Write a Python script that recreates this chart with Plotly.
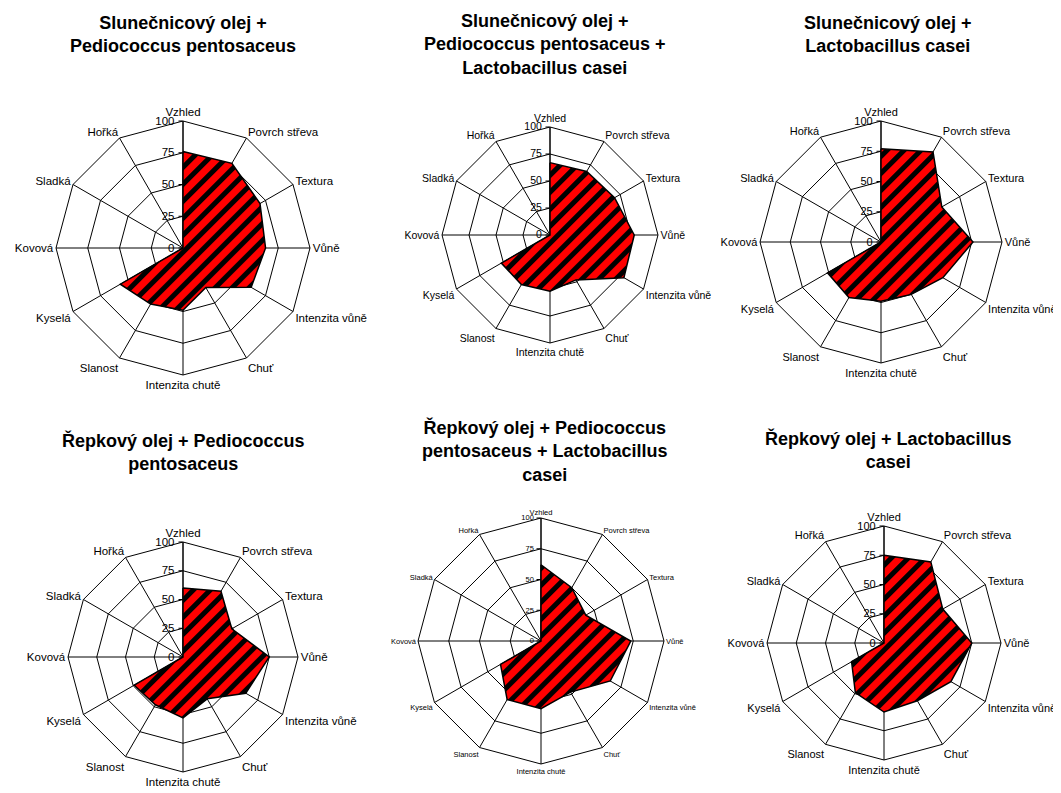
import plotly.graph_objects as go

categories = ["Vzhled", "Povrch střeva", "Textura", "Vůně", "Intenzita vůně", "Chuť",
              "Intenzita chutě", "Slanost", "Kyselá", "Kovová", "Sladká", "Hořká"]

titles = [
    "Slunečnicový olej +<br>Pediococcus pentosaceus",
    "Slunečnicový olej +<br>Pediococcus pentosaceus +<br>Lactobacillus casei",
    "Slunečnicový olej +<br>Lactobacillus casei",
    "Řepkový olej + Pediococcus<br>pentosaceus",
    "Řepkový olej + Pediococcus<br>pentosaceus + Lactobacillus<br>casei",
    "Řepkový olej + Lactobacillus<br>casei",
]

s_pp = [76, 77, 70, 65, 62, 36, 49, 51, 57, 0, 0, 0]
s_pp_lc = [67, 68, 69, 78, 79, 48, 52, 53, 52, 0, 0, 0]
s_lc = [77, 86, 58, 76, 59, 50, 49, 53, 51, 0, 0, 0]
r_pp = [60, 66, 49, 75, 63, 42, 53, 48, 49, 0, 0, 0]
r_pp_lc = [62, 50, 42, 73, 65, 48, 55, 55, 38, 0, 0, 0]
r_lc = [75, 80, 58, 75, 66, 57, 59, 49, 32, 0, 0, 0]

series = [s_pp, s_pp_lc, s_lc, r_pp, r_pp_lc, r_lc]
radial_ticks = [0, 25, 50, 75, 100]

W, H = 1061, 793
# (center x, center y, radius) in pixels, and label font size
layout_px = [
    (175, 240, 127, 11.5),
    (542, 227, 108, 10.5),
    (873, 234, 121, 11),
    (175, 649, 115, 11.5),
    (533, 633, 123, 7.5),
    (876, 635, 117, 11),
]
title_pos = [(175, 3), (537, 1), (880, 3), (175, 420), (537, 407), (880, 418)]

fig = go.Figure()
layout = dict(width=W, height=H, margin=dict(l=0, r=0, t=0, b=0),
              paper_bgcolor="white", plot_bgcolor="white", showlegend=False,
              font=dict(family="Liberation Sans, Arial, sans-serif", color="black"))
annotations = []
for i, (vals, (cx, cy, R, fs)) in enumerate(zip(series, layout_px)):
    pname = "polar" if i == 0 else f"polar{i+1}"
    fig.add_trace(go.Scatterpolar(
        r=vals + [vals[0]], theta=categories + [categories[0]],
        subplot=pname, mode="lines", fill="toself",
        fillcolor="#ff0000",
        line=dict(color="black", width=1.5),
        hoverinfo="skip",
    ))
    layout[pname] = dict(
        domain=dict(x=[(cx - R) / W, (cx + R) / W], y=[1 - (cy + R) / H, 1 - (cy - R) / H]),
        gridshape="linear", bgcolor="white",
        radialaxis=dict(range=[0, 100], tickvals=radial_ticks, angle=90, tickangle=90,
                        showline=True, linecolor="black", linewidth=1,
                        gridcolor="black", gridwidth=1, ticks="outside", ticklen=4,
                        tickcolor="black", tickfont=dict(size=fs, color="black"),
                        side="counterclockwise", layer="below traces"),
        angularaxis=dict(rotation=90, direction="clockwise", showline=True,
                         linecolor="black", linewidth=1, gridcolor="black", gridwidth=1,
                         tickfont=dict(size=fs, color="black"), ticks="",
                         layer="below traces"),
    )
    tx, ty = title_pos[i]
    annotations.append(dict(text=titles[i], x=tx / W, y=1 - ty / H, xref="paper", yref="paper",
                            xanchor="center", yanchor="top", showarrow=False,
                            font=dict(size=18, family="Liberation Sans, Arial, sans-serif",
                                      color="black", weight="bold"), align="center"))
layout["annotations"] = annotations
fig.update_layout(**layout)

# Striped (red / black diagonal) fill applied to the polygon fills
post_js = """
var gd = document.getElementById('{plot_id}');
function applyStripes(){
  var ns = 'http://www.w3.org/2000/svg';
  var svg = gd.querySelector('svg.main-svg');
  if(!svg) return;
  if(!document.getElementById('redstripes')){
    var defs = svg.querySelector('defs');
    if(!defs){ defs = document.createElementNS(ns,'defs'); svg.insertBefore(defs, svg.firstChild); }
    var p = document.createElementNS(ns,'pattern');
    p.setAttribute('id','redstripes');
    p.setAttribute('patternUnits','userSpaceOnUse');
    p.setAttribute('width','12'); p.setAttribute('height','12');
    p.setAttribute('patternTransform','rotate(45)');
    var r1 = document.createElementNS(ns,'rect');
    r1.setAttribute('width','12'); r1.setAttribute('height','12'); r1.setAttribute('fill','#ff0000');
    var r2 = document.createElementNS(ns,'rect');
    r2.setAttribute('width','5'); r2.setAttribute('height','12'); r2.setAttribute('fill','#000000');
    p.appendChild(r1); p.appendChild(r2);
    defs.appendChild(p);
  }
  gd.querySelectorAll('path.js-fill').forEach(function(el){
    el.style.fill = 'url(#redstripes)';
    el.style.fillOpacity = 1;
  });
}
applyStripes();
gd.on('plotly_afterplot', applyStripes);
"""
fig.write_html("out.html", post_script=post_js)
